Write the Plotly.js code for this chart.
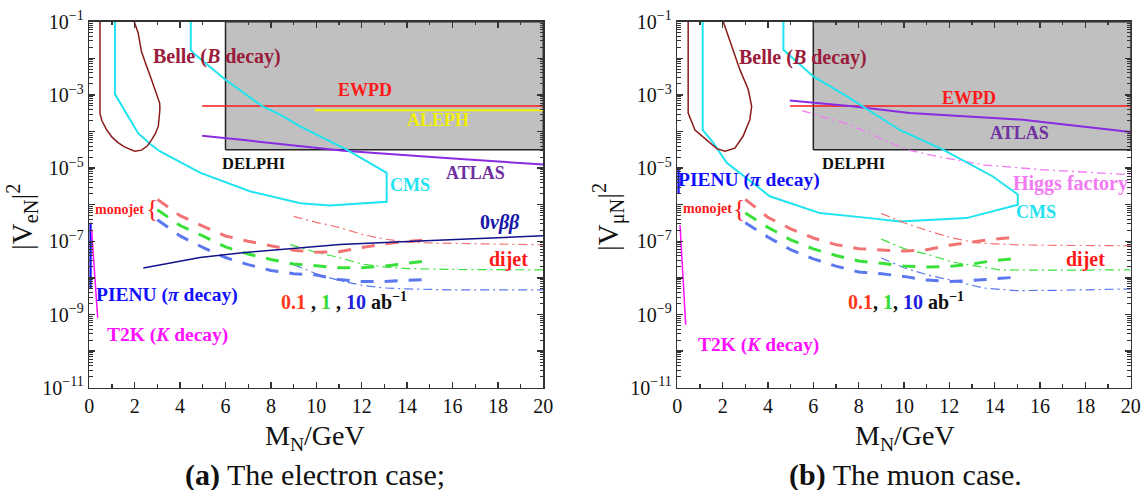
<!DOCTYPE html>
<html><head><meta charset="utf-8">
<script src="https://cdn.plot.ly/plotly-3.0.1.min.js"></script>
<style>html,body{margin:0;padding:0;background:#fff;}#chart{width:1142px;height:490px;}</style>
</head><body><div id="chart"></div>
<script>
// ---------------- DATA: panel (a) electron case ----------------
const boxX = [6, 20, 20, 6, 6];
const boxY = [3.16e-5, 3.16e-5, 0.1, 0.1, 3.16e-5];

const belleA_x = [0.47, 0.47, 0.55, 0.77, 1.0, 1.28, 1.55, 1.8, 2.0, 2.3, 2.55, 2.75, 2.92, 3.04, 3.11, 3.1, 2.97, 2.75, 2.53, 2.3, 2.15, 1.98];
const belleA_y = [0.1, 3.1e-4, 2e-4, 1.1e-4, 7e-5, 4.9e-5, 3.8e-5, 3.2e-5, 2.9e-5, 3.1e-5, 4e-5, 6e-5, 9e-5, 1.4e-4, 4e-4, 6e-4, 1.05e-3, 2.5e-3, 6e-3, 1.5e-2, 5e-2, 0.1];

const cmsA_x = [1.13, 1.13, 2.15, 2.67, 3.1, 4.9, 7.1, 9.3, 10.6, 13.1, 13.1, 11.34, 9.27, 8.4, 7.6, 6.0, 4.58, 4.47, 4.47];
const cmsA_y = [0.1, 1.05e-3, 9e-5, 4.6e-5, 2.9e-5, 7.4e-6, 2.3e-6, 1.1e-6, 9.5e-7, 1.2e-6, 7.4e-6, 3.2e-5, 1.4e-4, 2.9e-4, 5e-4, 2.6e-3, 1.4e-2, 1.7e-2, 0.1];

const atlasA_x = [4.97, 9.27, 11.2, 15.7, 20];
const atlasA_y = [7.7e-5, 4e-5, 3e-5, 1.9e-5, 1.25e-5];

const ewpd_x = [4.97, 20];
const ewpd_y = [5e-4, 5e-4];

const aleph_x = [9.94, 20];
const aleph_y = [3.8e-4, 3.8e-4];

const bb0n_x = [2.38, 4.88, 6.64, 9.27, 11.04, 14.27, 20];
const bb0n_y = [1.86e-8, 3.6e-8, 4.8e-8, 6.6e-8, 8.2e-8, 1e-7, 1.42e-7];

const pienuA_x = [0.05, 0.05];
const pienuA_y = [3.2e-7, 5e-9];
const t2kA_x = [0.1, 0.37];
const t2kA_y = [2.1e-7, 8e-10];

const mono_x = [3, 4, 5, 6, 7, 8, 9, 10, 11, 12, 13, 14, 15];
const monoA_red   = [1.4e-6, 5e-7, 2.6e-7, 1.4e-7, 1e-7, 7.5e-8, 5.7e-8, 5e-8, 5.2e-8, 6.8e-8, 8.5e-8, 1e-7, 1.1e-7];
const monoA_green = [7.3e-7, 2.7e-7, 1.4e-7, 7e-8, 4.5e-8, 3.2e-8, 2.4e-8, 2.1e-8, 1.9e-8, 1.9e-8, 2.1e-8, 2.5e-8, 2.95e-8];
const monoA_blue  = [3.9e-7, 1.4e-7, 6.8e-8, 3.6e-8, 2.3e-8, 1.6e-8, 1.3e-8, 1.2e-8, 9e-9, 8e-9, 8e-9, 8.5e-9, 9.1e-9];

const dijetA_red_x = [9.0, 10, 11, 12, 13, 14, 15, 17, 20];
const dijetA_red_y = [4.8e-7, 3.3e-7, 2.4e-7, 1.55e-7, 1.15e-7, 9.5e-8, 9e-8, 8.5e-8, 8e-8];
const dijetA_green_x = [8.85, 10, 11, 12, 13, 14, 16, 20];
const dijetA_green_y = [8.1e-8, 5e-8, 3.6e-8, 2.4e-8, 2e-8, 1.8e-8, 1.7e-8, 1.66e-8];
const dijetA_blue_x = [9.0, 10, 11, 12, 13, 14, 16, 20];
const dijetA_blue_y = [2.3e-8, 1.3e-8, 8.5e-9, 6.3e-9, 5.3e-9, 5e-9, 4.7e-9, 4.7e-9];

// ---------------- DATA: panel (b) muon case ----------------
const belleB_x = [0.48, 0.48, 0.78, 1.3, 1.74, 2.1, 2.54, 2.9, 3.2, 3.28, 3.13, 2.76, 2.47, 2.03];
const belleB_y = [0.1, 3.2e-4, 1.1e-4, 6e-5, 3.4e-5, 2.9e-5, 3.5e-5, 7.4e-5, 2.1e-4, 4.9e-4, 1.4e-3, 4.9e-3, 1.7e-2, 0.1];

const cmsB_x = [1.12, 1.12, 1.59, 2.18, 4.08, 6.29, 8.49, 9.81, 12.75, 15.02, 15.02, 13.92, 11.72, 9.81, 7.61, 6.0, 4.68, 4.68];
const cmsB_y = [0.1, 1.1e-4, 4.9e-5, 1.4e-5, 1.7e-6, 5.9e-7, 4.3e-7, 3.5e-7, 4.3e-7, 1e-6, 1.9e-6, 5.9e-6, 3.2e-5, 1.1e-4, 8.2e-4, 3.2e-3, 1.7e-2, 0.1];

const atlasB_x = [4.96, 7.6, 10.25, 15.24, 20];
const atlasB_y = [7e-4, 5e-4, 3.2e-4, 2.1e-4, 9.7e-5];

const higgs_x = [5.5, 6.5, 7.6, 8.8, 10.1, 11.5, 13.5, 16, 20];
const higgs_y = [3.7e-4, 2.5e-4, 1.55e-4, 7.2e-5, 3.2e-5, 2.05e-5, 1.23e-5, 9.1e-6, 6.6e-6];

const pienuB_x = [0.05, 0.05];
const pienuB_y = [9e-6, 2e-6];
const t2kB_x = [0.12, 0.37];
const t2kB_y = [2.8e-7, 5.3e-10];

const monoB_red   = [1.4e-6, 4.5e-7, 2.2e-7, 1.23e-7, 8.1e-8, 6.3e-8, 5.8e-8, 5.4e-8, 5.9e-8, 7.8e-8, 9.5e-8, 1.15e-7, 1.3e-7];
const monoB_green = [5.9e-7, 2.4e-7, 1.1e-7, 6.2e-8, 4.1e-8, 2.9e-8, 2.5e-8, 2.1e-8, 2e-8, 2.05e-8, 2.4e-8, 3e-8, 3.4e-8];
const monoB_blue  = [3.2e-7, 1.3e-7, 5.9e-8, 3.3e-8, 2.1e-8, 1.45e-8, 1.3e-8, 1.1e-8, 8.7e-9, 8e-9, 8.5e-9, 9.5e-9, 1.05e-8];

const dijetB_red_x = [9.0, 10, 11.1, 12.14, 13.2, 15, 17, 20];
const dijetB_red_y = [5.8e-7, 3.2e-7, 1.9e-7, 1.23e-7, 9e-8, 8e-8, 7.7e-8, 7.6e-8];
const dijetB_green_x = [9.0, 10, 11.1, 12.15, 14.2, 16, 20];
const dijetB_green_y = [1.15e-7, 6.3e-8, 4.3e-8, 2.7e-8, 1.66e-8, 1.62e-8, 1.66e-8];
const dijetB_blue_x = [9.0, 10, 11.1, 12.0, 13.5, 14.95, 17, 20];
const dijetB_blue_y = [3.5e-8, 1.9e-8, 1.17e-8, 8.9e-9, 5.3e-9, 4.5e-9, 4.6e-9, 5e-9];

// ---------------- TICKS ----------------
const xTickVals = [0, 2, 4, 6, 8, 10, 12, 14, 16, 18, 20];
const yTickVals = [1e-11, 1e-10, 1e-9, 1e-8, 1e-7, 1e-6, 1e-5, 1e-4, 1e-3, 1e-2, 1e-1];
const yTickText = ['10<sup>−11</sup>', '', '10<sup>−9</sup>', '', '10<sup>−7</sup>', '', '10<sup>−5</sup>', '', '10<sup>−3</sup>', '', '10<sup>−1</sup>'];

// ---------------- STYLE ----------------
const C = {
  belle: '#8b1a1a', cms: '#1fe3ee', atlas: '#8a2be2', ewpd: '#ff1a1a', aleph: '#f2f200',
  bb: '#12128c', pienu: '#1010ff', t2k: '#ff10ff',
  red: '#f27373', green: '#3ae03a', blue: '#5b78ee', higgs: '#f27af2'
};
const DASH = '13px,11px';
const DASHDOT = '9px,4px,2px,4px';

function line(x, y, color, width, dash, ax) {
  return {x: x, y: y, type: 'scatter', mode: 'lines', xaxis: ax[0], yaxis: ax[1],
    line: {color: color, width: width, dash: dash || 'solid'}, hoverinfo: 'skip'};
}
const A = ['x', 'y'], B = ['x2', 'y2'];

const traces = [];
[A, B].forEach(ax => {
  const t = line(boxX, boxY, '#222', 1.5, 'solid', ax);
  t.fill = 'toself'; t.fillcolor = '#c0c0c0';
  traces.push(t);
});
// panel a
traces.push(line(ewpd_x, ewpd_y, C.ewpd, 1.5, null, A));
traces.push(line(aleph_x, aleph_y, C.aleph, 2, null, A));
traces.push(line(atlasA_x, atlasA_y, C.atlas, 2, null, A));
traces.push(line(cmsA_x, cmsA_y, C.cms, 2, null, A));
traces.push(line(belleA_x, belleA_y, C.belle, 1.5, null, A));
traces.push(line(dijetA_red_x, dijetA_red_y, C.red, 1.2, DASHDOT, A));
traces.push(line(dijetA_green_x, dijetA_green_y, C.green, 1.2, DASHDOT, A));
traces.push(line(dijetA_blue_x, dijetA_blue_y, C.blue, 1.2, DASHDOT, A));
traces.push(line(mono_x, monoA_red, C.red, 3, DASH, A));
traces.push(line(mono_x, monoA_green, C.green, 3, DASH, A));
traces.push(line(mono_x, monoA_blue, C.blue, 3, DASH, A));
traces.push(line(bb0n_x, bb0n_y, C.bb, 1.5, null, A));
traces.push(line(pienuA_x, pienuA_y, C.pienu, 2.5, null, A));
traces.push(line(t2kA_x, t2kA_y, C.t2k, 1.5, null, A));
// panel b
traces.push(line(ewpd_x, ewpd_y, C.ewpd, 1.5, null, B));
traces.push(line(higgs_x, higgs_y, C.higgs, 1.3, DASHDOT, B));
traces.push(line(atlasB_x, atlasB_y, C.atlas, 2, null, B));
traces.push(line(cmsB_x, cmsB_y, C.cms, 2, null, B));
traces.push(line(belleB_x, belleB_y, C.belle, 1.5, null, B));
traces.push(line(dijetB_red_x, dijetB_red_y, C.red, 1.2, DASHDOT, B));
traces.push(line(dijetB_green_x, dijetB_green_y, C.green, 1.2, DASHDOT, B));
traces.push(line(dijetB_blue_x, dijetB_blue_y, C.blue, 1.2, DASHDOT, B));
traces.push(line(mono_x, monoB_red, C.red, 3, DASH, B));
traces.push(line(mono_x, monoB_green, C.green, 3, DASH, B));
traces.push(line(mono_x, monoB_blue, C.blue, 3, DASH, B));
traces.push(line(pienuB_x, pienuB_y, C.pienu, 2.5, null, B));
traces.push(line(t2kB_x, t2kB_y, C.t2k, 1.5, null, B));

// ---------------- LAYOUT ----------------
const W = 1142, H = 490;
const SERIF = 'Liberation Serif, Times New Roman, serif';
const yMinor = [];
for (let e = -11; e < -1; e++) for (let k = 2; k <= 9; k++) yMinor.push(k * Math.pow(10, e));

function xAxis(l, r, anchor) {
  return {domain: [l / W, r / W], range: [0, 20], anchor: anchor, tickmode: 'array', tickvals: xTickVals,
    ticks: 'inside', ticklen: 6, tickwidth: 1.3, tickcolor: '#333', showline: true, linecolor: '#333', linewidth: 1.6,
    mirror: 'ticks', showgrid: false, zeroline: false, tickfont: {family: SERIF, size: 20, color: '#111'},
    minor: {dtick: 1, ticks: 'inside', ticklen: 3.5, tickwidth: 1.2, tickcolor: '#333', showgrid: false}};
}
function yAxis(anchor) {
  return {domain: [(H - 387.7) / H, (H - 21.7) / H], type: 'log', range: [-11, -1], anchor: anchor,
    tickmode: 'array', tickvals: yTickVals, ticktext: yTickText,
    ticks: 'inside', ticklen: 6, tickwidth: 1.3, tickcolor: '#333', showline: true, linecolor: '#333', linewidth: 1.6,
    mirror: 'ticks', showgrid: false, zeroline: false, tickfont: {family: SERIF, size: 20, color: '#111'},
    minor: {tickmode: 'array', tickvals: yMinor, ticks: 'inside', ticklen: 3.5, tickwidth: 1, tickcolor: '#333', showgrid: false}};
}

const ann = [];
function T(px, py, text, color, size, opts) {
  const a = Object.assign({x: px / W, y: 1 - py / H, xref: 'paper', yref: 'paper', text: text, showarrow: false,
    xanchor: 'center', yanchor: 'middle', font: {family: SERIF, size: size, color: color}}, opts || {});
  ann.push(a);
}
const it = s => '<i>' + s + '</i>';
// panel a labels
T(217, 56, '<b>Belle (' + it('B') + ' decay)</b>', '#9a1b3a', 20);
T(365, 90, '<b>EWPD</b>', '#ff1a1a', 18);
T(438, 120, '<b>ALEPH</b>', '#f0f000', 18);
T(253, 163, '<b>DELPHI</b>', '#111', 16.5);
T(475, 173, '<b>ATLAS</b>', '#7030a0', 18);
T(410, 185, '<b>CMS</b>', '#1fe3ee', 18);
T(500, 222, '<b>0' + it('νββ') + '</b>', '#1616a8', 20);
T(119, 209, '<b>monojet</b>', '#ff1a1a', 14);
T(152, 208, '{', '#ff1a1a', 26);
T(508, 259, '<b>dijet</b>', '#ff1a1a', 20);
T(167, 295, '<b>PIENU (' + it('π') + ' decay)</b>', '#1010ff', 19.5);
T(167, 335, '<b>T2K (' + it('K') + ' decay)</b>', '#ff10ff', 19.5);
T(344, 301, '<b><span style="color:#ff3a1a">0.1</span> , <span style="color:#33dd33">1</span> , <span style="color:#2020e0">10</span> ab<sup>−1</sup></b>', '#111', 20);
// panel b labels
T(803, 58, '<b>Belle (' + it('B') + ' decay)</b>', '#9a1b3a', 20);
T(969, 98, '<b>EWPD</b>', '#ff1a1a', 18);
T(1019, 133, '<b>ATLAS</b>', '#7030a0', 18);
T(853, 163, '<b>DELPHI</b>', '#111', 16.5);
T(1070, 183, '<b>Higgs factory</b>', '#f27af2', 20);
T(1036, 212, '<b>CMS</b>', '#1fe3ee', 18);
T(749, 180, '<b>PIENU (' + it('π') + ' decay)</b>', '#1010ff', 19.5);
T(707, 208, '<b>monojet</b>', '#ff1a1a', 14);
T(739, 208, '{', '#ff1a1a', 26);
T(758, 345, '<b>T2K (' + it('K') + ' decay)</b>', '#ff10ff', 19.5);
T(1085, 259, '<b>dijet</b>', '#ff1a1a', 20);
T(906, 301, '<b><span style="color:#ff3a1a">0.1</span>, <span style="color:#33dd33">1</span>, <span style="color:#2020e0">10</span> ab<sup>−1</sup></b>', '#111', 20);
// axis titles
T(22, 217, '|V<sub>eN</sub>|<sup>2</sup>', '#111', 29, {textangle: -90});
T(608, 217, '|V<sub>μN</sub>|<sup>2</sup>', '#111', 29, {textangle: -90});
T(315, 437, 'M<sub>N</sub>/GeV', '#111', 28);
T(905, 437, 'M<sub>N</sub>/GeV', '#111', 28);
// captions
T(315, 475, '<b>(a)</b> The electron case;', '#111', 30);
T(905, 475, '<b>(b)</b> The muon case.', '#111', 30);

const layout = {
  width: W, height: H, margin: {l: 0, r: 0, t: 0, b: 0},
  paper_bgcolor: '#fff', plot_bgcolor: '#fff', showlegend: false,
  xaxis: xAxis(89.3, 543.3, 'y'), yaxis: yAxis('x'),
  xaxis2: xAxis(677.3, 1130.7, 'y2'), yaxis2: yAxis('x2'),
  annotations: ann
};
Plotly.newPlot('chart', traces, layout, {displayModeBar: false, staticPlot: true});
</script>
</body></html>
